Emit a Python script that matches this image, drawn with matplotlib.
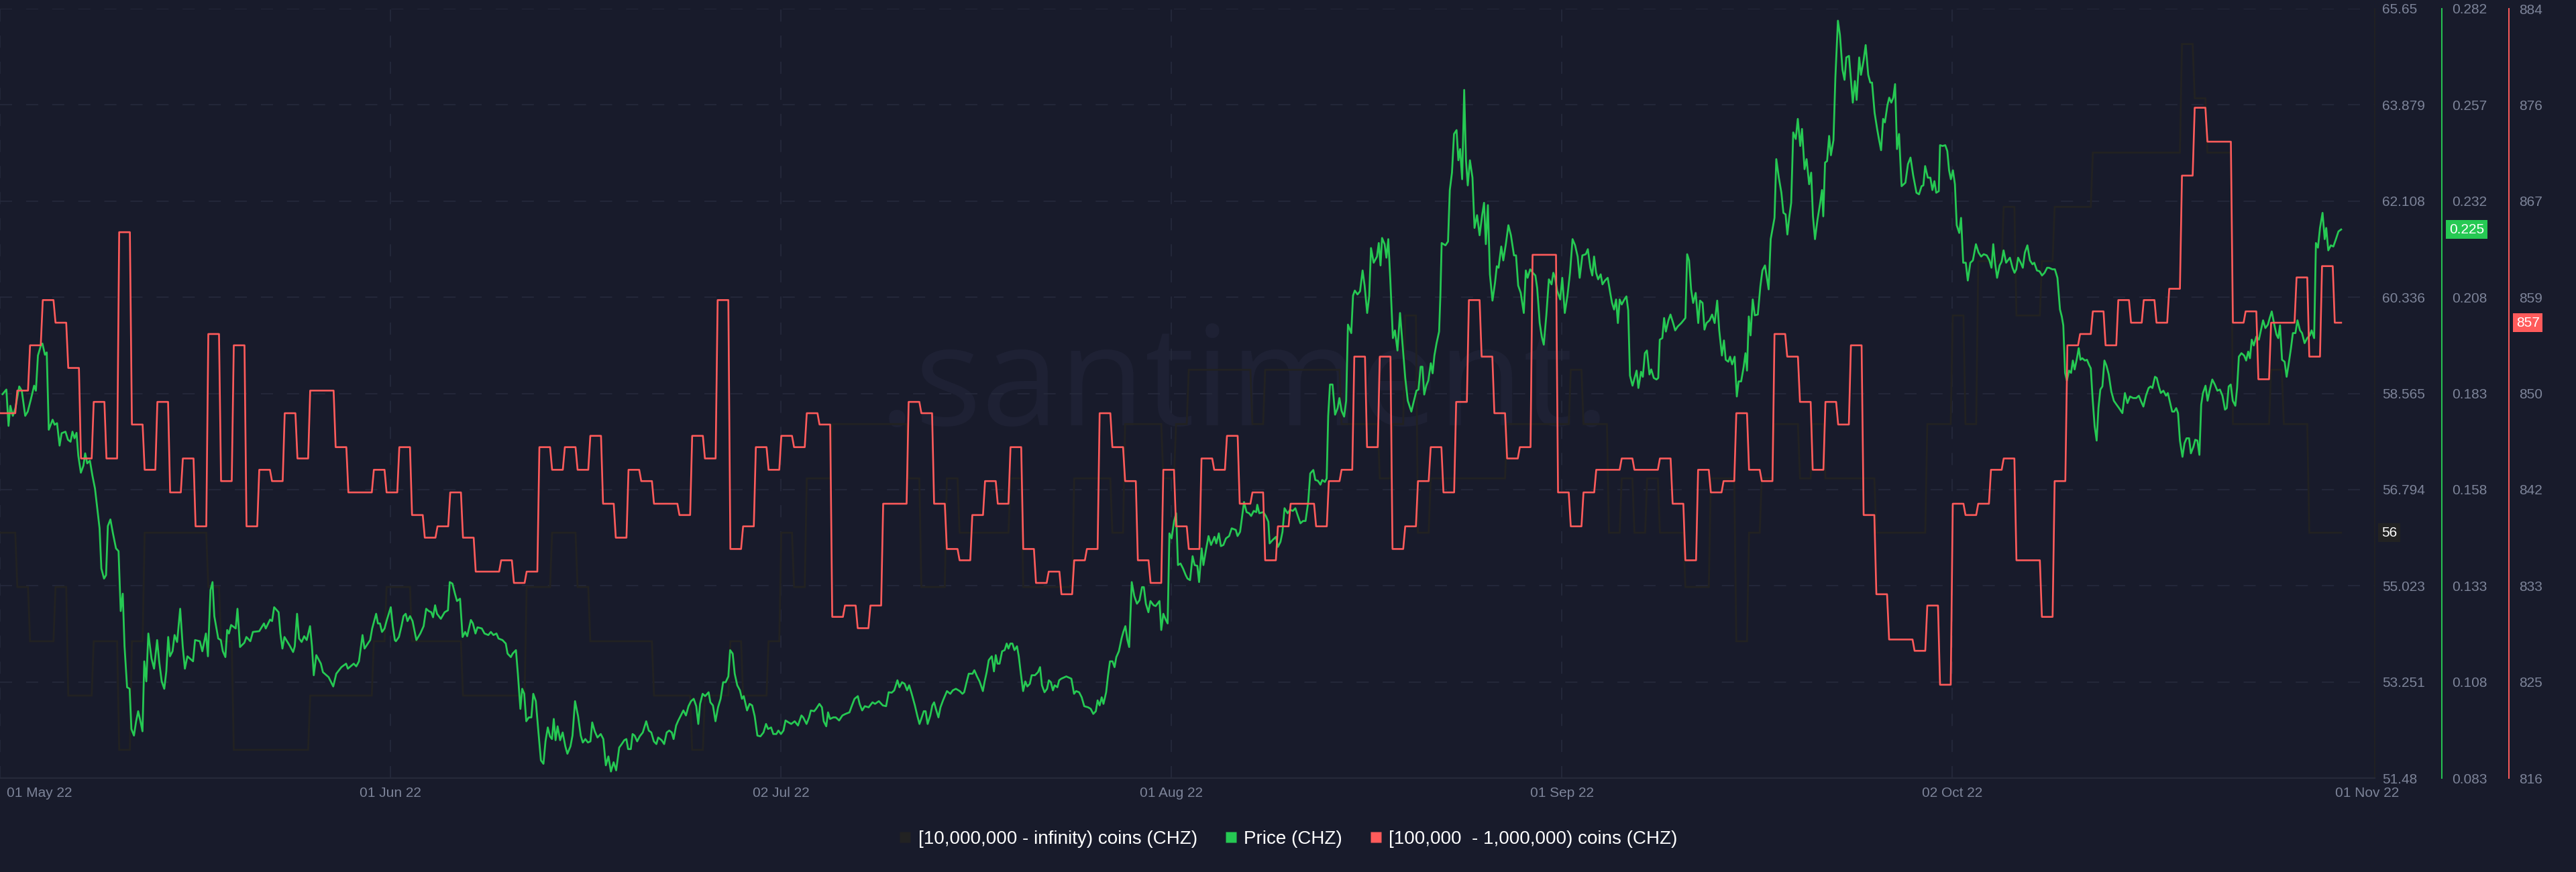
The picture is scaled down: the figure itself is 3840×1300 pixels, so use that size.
import numpy as np
import matplotlib
matplotlib.use("Agg")
import matplotlib.pyplot as plt
import matplotlib.transforms as mtransforms
from matplotlib.lines import Line2D

plt.rcParams['font.family'] = ['Liberation Sans', 'DejaVu Sans']
plt.rcParams['lines.scale_dashes'] = False

# ---------------- data (day 0 = 01 May 2022, 12:00) ----------------
date_labels = ["01 May 22", "01 Jun 22", "02 Jul 22", "01 Aug 22", "01 Sep 22", "02 Oct 22", "01 Nov 22"]
date_tick_days = [0, 30.67, 61.33, 92.0, 122.67, 153.33, 185.9]

whale_tick_labels = ["65.65", "63.879", "62.108", "60.336", "58.565", "56.794", "55.023", "53.251", "51.48"]
price_tick_labels = ["0.282", "0.257", "0.232", "0.208", "0.183", "0.158", "0.133", "0.108", "0.083"]
mid_tick_labels = ["884", "876", "867", "859", "850", "842", "833", "825", "816"]

legend_labels = ["[10,000,000 - infinity) coins (CHZ)", "Price (CHZ)", "[100,000  - 1,000,000) coins (CHZ)"]

# [10,000,000 - infinity) holders, one value per day
whale = [56, 55, 54, 54, 55, 53, 53, 54, 54, 52, 54, 56, 56, 56, 56, 56, 55, 54, 52, 52, 52, 52, 52, 52, 53, 53, 53, 53, 53, 54, 55,
         55, 54, 54, 54, 54, 53, 53, 53, 53, 53, 55, 55, 56, 56, 55, 54, 54, 54, 54, 54, 53, 53, 53, 52, 53, 53, 54, 53, 53, 54, 56, 55,
         57, 57, 58, 58, 58, 58, 58, 58, 57, 55, 55, 57, 56, 56, 56, 56, 57, 55, 55, 55, 55, 57, 57, 57, 56, 58, 58, 58, 57, 58, 59,
         59, 59, 59, 59, 58, 59, 59, 59, 59, 59, 59, 58, 58, 58, 57, 58, 60, 56, 57, 57, 57, 57, 57, 57, 58, 58, 58, 58, 58, 59, 58,
         58, 56, 57, 56, 57, 56, 56, 55, 55, 57, 57, 54, 56, 57, 58, 58, 57, 58, 57, 57, 57, 57, 56, 56, 56, 56, 58, 58, 60, 58, 61,
         61, 62, 60, 60, 61, 62, 62, 62, 63, 63, 63, 63, 63, 63, 63, 65, 64, 63, 63, 58, 58, 58, 59, 58, 58, 56, 56, 56]

# [100,000 - 1,000,000) holders, one value per day
mid = [849, 851, 855, 859, 857, 853, 845, 850, 845, 865, 848, 844, 850, 842, 845, 839, 856, 843, 855, 839, 844, 843, 849, 845, 851, 851, 846, 842, 842, 844, 842, 846,
       840, 838, 839, 842, 838, 835, 835, 836, 834, 835, 846, 844, 846, 844, 847, 841, 838, 844, 843, 841, 841, 840, 847, 845, 859, 837, 839, 846, 844, 847, 846,
       849, 848, 831, 832, 830, 832, 841, 841, 850, 849, 841, 837, 836, 840, 843, 841, 846, 837, 834, 835, 833, 836, 837, 849, 846, 843, 836, 834, 844, 839, 837,
       845, 844, 847, 841, 842, 836, 839, 841, 841, 839, 843, 844, 854, 846, 854, 837, 839, 843, 846, 842, 850, 859, 854, 849, 845, 846, 863, 863, 842, 839, 842,
       844, 844, 845, 844, 844, 845, 841, 836, 844, 842, 843, 849, 844, 843, 856, 854, 850, 844, 850, 848, 855, 840, 833, 829, 829, 828, 832, 825, 841, 840, 841,
       844, 845, 836, 836, 831, 843, 855, 856, 858, 855, 859, 857, 859, 857, 860, 870, 876, 873, 873, 857, 858, 852, 857, 857, 861, 854, 862, 857]

# CHZ price: (day, price)
price_pairs = [
    (0.20, .1823), (0.50, .1835), (0.67, .1741), (0.81, .1793), (1.01, .1767), (1.21, .1787), (1.51, .1843), (1.71, .1832),
    (1.98, .1767), (2.18, .1778), (2.42, .1809), (2.68, .1845), (2.82, .1832), (2.98, .1923), (3.23, .1951), (3.33, .1954),
    (3.53, .1925), (3.67, .1931), (3.83, .1731), (4.13, .1757), (4.29, .1744), (4.48, .1748), (4.68, .1690), (4.84, .1722),
    (5.14, .1726), (5.34, .1705), (5.54, .1700), (5.69, .1726), (5.85, .1709), (6.01, .1723), (6.15, .1664), (6.35, .1620),
    (6.55, .1638), (6.69, .1670), (6.85, .1644), (7.06, .1651), (7.26, .1612), (7.46, .1579), (7.66, .1521), (7.82, .1476),
    (7.96, .1372), (8.17, .1346), (8.33, .1355), (8.47, .1482), (8.67, .1499), (8.87, .1463), (9.11, .1424), (9.31, .1417),
    (9.48, .1262), (9.64, .1307), (9.78, .1171), (9.98, .1065), (10.18, .1061), (10.32, .0957), (10.52, .0940), (10.69, .0977),
    (10.85, .1003), (11.03, .0977), (11.19, .0951), (11.33, .1132), (11.49, .1080), (11.65, .1204), (11.90, .1139), (12.10, .1113),
    (12.34, .1187), (12.50, .1132), (12.70, .1080), (12.90, .1061), (13.06, .1106), (13.21, .1195), (13.35, .1145), (13.55, .1158),
    (13.71, .1200), (13.91, .1182), (14.15, .1268), (14.35, .1171), (14.52, .1113), (14.72, .1145), (15.16, .1132), (15.32, .1187),
    (15.69, .1184), (15.89, .1158), (16.17, .1204), (16.33, .1145), (16.53, .1316), (16.69, .1337), (16.83, .1249), (17.14, .1191),
    (17.34, .1187), (17.50, .1158), (17.70, .1143), (17.84, .1213), (17.98, .1204), (18.15, .1226), (18.51, .1217), (18.65, .1268),
    (18.85, .1169), (19.19, .1180), (19.35, .1195), (19.66, .1184), (19.86, .1208), (20.36, .1210), (20.73, .1230), (20.87, .1217),
    (21.21, .1240), (21.37, .1236), (21.53, .1272), (21.88, .1259), (22.02, .1204), (22.18, .1165), (22.34, .1195), (22.78, .1171),
    (23.02, .1156), (23.15, .1171), (23.33, .1255), (23.49, .1191), (23.69, .1182), (23.89, .1197), (24.09, .1187), (24.35, .1223),
    (24.50, .1171), (24.64, .1096), (24.84, .1148), (25.20, .1126), (25.36, .1104), (25.81, .1091), (26.17, .1067), (26.41, .1100),
    (26.81, .1117), (27.18, .1126), (27.32, .1113), (27.78, .1126), (27.98, .1119), (28.19, .1132), (28.47, .1200), (28.63, .1165),
    (29.07, .1187), (29.23, .1217), (29.54, .1255), (29.68, .1230), (29.84, .1230), (30.00, .1208), (30.20, .1217), (30.38, .1239),
    (30.69, .1272), (30.85, .1223), (31.01, .1187),
    (31.09, .1184), (31.33, .1195), (31.53, .1223), (31.69, .1249), (31.86, .1255), (32.00, .1236), (32.20, .1249), (32.40, .1236),
    (32.54, .1213), (32.70, .1187), (33.01, .1204), (33.27, .1223), (33.47, .1268), (33.67, .1262), (33.87, .1259), (34.01, .1246),
    (34.17, .1277), (34.32, .1255), (34.62, .1242), (34.92, .1259), (35.18, .1264), (35.32, .1337), (35.53, .1333), (35.73, .1307),
    (35.89, .1288), (36.13, .1294), (36.33, .1195), (36.53, .1208), (36.69, .1197), (36.98, .1239), (37.14, .1230), (37.34, .1204),
    (37.50, .1220), (37.84, .1217), (38.05, .1204), (38.35, .1200), (38.55, .1208), (38.75, .1200), (38.99, .1204), (39.15, .1191),
    (39.46, .1187), (39.72, .1178), (39.86, .1152), (40.12, .1143), (40.26, .1152), (40.52, .1161), (40.67, .1100), (40.87, .1009),
    (41.01, .1061), (41.17, .1048), (41.33, .0977), (41.53, .0987), (41.73, .0987), (41.88, .1048), (42.08, .1029), (42.28, .0951),
    (42.48, .0876), (42.68, .0867), (42.84, .0925), (43.02, .0961), (43.19, .0938), (43.35, .0931), (43.49, .0983), (43.63, .0928),
    (43.79, .0964), (43.99, .0928), (44.19, .0948), (44.40, .0912), (44.56, .0893), (44.80, .0912), (44.96, .0940), (45.16, .1029),
    (45.40, .0990), (45.61, .0940), (45.77, .0922), (45.97, .0931), (46.17, .0922), (46.37, .0925), (46.51, .0974), (46.71, .0951),
    (46.92, .0935), (47.18, .0944), (47.38, .0931), (47.58, .0863), (47.78, .0886), (47.98, .0847), (48.19, .0871), (48.39, .0850),
    (48.63, .0909), (48.83, .0918), (49.03, .0928), (49.19, .0931), (49.33, .0905), (49.54, .0905), (49.68, .0944), (49.84, .0940),
    (50.04, .0925), (50.24, .0938), (50.48, .0948), (50.75, .0977), (50.95, .0953), (51.15, .0948), (51.35, .0925), (51.55, .0918),
    (51.69, .0935), (51.96, .0928), (52.16, .0918), (52.36, .0948), (52.56, .0953), (52.76, .0948), (52.90, .0931), (53.10, .0966),
    (53.27, .0979), (53.47, .0992), (53.67, .1005), (53.87, .0992), (54.07, .1016), (54.27, .1029), (54.48, .1035), (54.68, .1016),
    (54.84, .0970), (54.98, .1022), (55.18, .1048), (55.38, .1042), (55.65, .1052), (55.79, .1026), (55.99, .1018), (56.19, .0977),
    (56.39, .1013), (56.59, .1035), (56.79, .1078), (56.99, .1078), (57.20, .1093), (57.34, .1161), (57.54, .1152), (57.70, .1100),
    (57.90, .1070), (58.11, .1057), (58.27, .1035), (58.41, .1042), (58.67, .1005), (58.87, .1022), (59.07, .1018), (59.27, .0990),
    (59.48, .0940), (59.72, .0938), (59.96, .0948), (60.16, .0970), (60.32, .0957), (60.56, .0961), (60.73, .0944), (60.97, .0944),
    (61.13, .0953), (61.33, .0944), (61.53, .0953), (61.69, .0979), (61.93, .0974), (62.14, .0970),
    (62.41, .0977), (62.67, .0966), (62.94, .0992), (63.08, .0987), (63.34, .0970), (63.54, .0987), (63.68, .1005), (63.94, .1003),
    (64.09, .1009), (64.35, .1022), (64.55, .1013), (64.69, .0977), (64.89, .0964), (65.03, .1000), (65.19, .0983), (65.44, .0987),
    (65.64, .0987), (65.90, .0979), (66.16, .0992), (66.40, .0996), (66.71, .1000), (66.91, .1018), (67.11, .1035), (67.37, .1042),
    (67.51, .1022), (67.71, .1005), (67.92, .1016), (68.22, .1013), (68.52, .1026), (68.72, .1022), (69.02, .1029), (69.33, .1018),
    (69.59, .1016), (69.79, .1052), (70.03, .1051), (70.23, .1057), (70.48, .1083), (70.64, .1065), (70.84, .1078), (71.04, .1074),
    (71.24, .1057), (71.40, .1070), (71.60, .1048), (71.85, .1018), (72.05, .0990), (72.21, .0970), (72.35, .0983), (72.55, .1003),
    (72.69, .1003), (72.85, .0970), (73.06, .0992), (73.22, .1018), (73.36, .1026), (73.50, .1009), (73.70, .0987), (73.86, .1013),
    (74.06, .1031), (74.37, .1055), (74.63, .1048), (74.83, .1057), (75.07, .1061), (75.38, .1055), (75.58, .1048), (75.72, .1052),
    (75.88, .1074), (76.08, .1100), (76.38, .1100), (76.52, .1109), (76.73, .1093), (76.93, .1080), (77.19, .1055), (77.33, .1080),
    (77.49, .1104), (77.65, .1135), (77.89, .1145), (78.06, .1106), (78.20, .1148), (78.34, .1126), (78.50, .1126), (78.70, .1158),
    (78.90, .1161), (79.06, .1178), (79.20, .1165), (79.35, .1178), (79.51, .1178), (79.67, .1161), (79.87, .1171), (80.01, .1145),
    (80.15, .1106), (80.35, .1055), (80.52, .1080), (80.68, .1067), (80.88, .1074), (81.02, .1096), (81.28, .1096), (81.52, .1104),
    (81.68, .1117), (81.83, .1070), (82.03, .1052), (82.23, .1061), (82.37, .1083), (82.53, .1078), (82.69, .1057), (82.83, .1070),
    (83.04, .1065), (83.18, .1083), (83.34, .1087), (83.74, .1093), (84.14, .1087), (84.35, .1048), (84.51, .1055), (84.75, .1052),
    (84.95, .1039), (85.15, .1016), (85.46, .1013), (85.66, .1009), (85.86, .0996), (86.06, .1003), (86.20, .1031), (86.36, .1018),
    (86.52, .1039), (86.66, .1022), (86.87, .1052), (87.01, .1093), (87.17, .1132), (87.37, .1132), (87.53, .1117), (87.67, .1143),
    (87.87, .1158), (88.08, .1191), (88.22, .1208), (88.38, .1223), (88.54, .1187), (88.68, .1169), (88.88, .1337), (89.08, .1301),
    (89.29, .1281), (89.49, .1290), (89.69, .1324), (89.83, .1324), (89.99, .1281), (90.19, .1259), (90.35, .1288), (90.60, .1277),
    (90.76, .1275), (90.90, .1281), (91.06, .1288), (91.20, .1213), (91.36, .1255), (91.56, .1239), (91.70, .1230), (91.84, .1463),
    (92.01, .1450), (92.21, .1495), (92.37, .1515), (92.51, .1381), (92.71, .1385), (92.91, .1372), (93.12, .1355),
    (93.26, .1346), (93.46, .1342), (93.66, .1404), (93.82, .1381), (94.03, .1379), (94.17, .1337), (94.37, .1424), (94.51, .1381),
    (94.71, .1420), (94.91, .1456), (95.11, .1433), (95.38, .1454), (95.52, .1437), (95.72, .1463), (95.88, .1430), (96.08, .1433),
    (96.28, .1450), (96.53, .1456), (96.73, .1476), (97.05, .1472), (97.19, .1456), (97.39, .1467), (97.70, .1544), (97.90, .1518),
    (98.10, .1515), (98.26, .1508), (98.46, .1521), (98.66, .1518), (98.74, .1537), (98.90, .1515), (99.21, .1518), (99.41, .1508),
    (99.61, .1493), (99.71, .1437), (99.95, .1446), (100.21, .1454), (100.36, .1428), (100.56, .1441), (100.72, .1467), (100.88, .1528),
    (101.12, .1515), (101.32, .1524), (101.53, .1521), (101.73, .1528), (101.93, .1508), (102.13, .1489), (102.33, .1495), (102.53, .1495),
    (102.74, .1544), (102.90, .1618), (103.14, .1627), (103.30, .1601), (103.50, .1599), (103.70, .1589), (103.84, .1601), (104.05, .1596),
    (104.19, .1605), (104.31, .1767), (104.45, .1848), (104.65, .1848), (104.85, .1770), (105.05, .1787), (105.19, .1813), (105.36, .1780),
    (105.56, .1765), (105.72, .1806), (105.86, .2003), (106.12, .1981), (106.26, .2078), (106.40, .2091), (106.61, .2081), (106.81, .2089),
    (107.01, .2143), (107.17, .2104), (107.37, .2033), (107.53, .2076), (107.67, .2201), (107.88, .2163), (108.14, .2179), (108.28, .2214),
    (108.42, .2156), (108.54, .2227), (108.74, .2211), (108.88, .2176), (109.03, .2224), (109.19, .2117), (109.39, .1968), (109.55, .1988),
    (109.75, .1936), (109.95, .2033), (110.15, .1951), (110.36, .1865), (110.56, .1806), (110.84, .1778), (111.00, .1800), (111.24, .1832),
    (111.40, .1835), (111.57, .1894), (111.71, .1894), (111.85, .1822), (112.01, .1845), (112.17, .1858), (112.37, .1903), (112.51, .1877),
    (112.65, .1923), (112.82, .1955), (113.02, .1985), (113.12, .2078), (113.22, .2214), (113.52, .2208), (113.72, .2218), (113.86, .2351),
    (114.03, .2396), (114.19, .2496), (114.39, .2506), (114.53, .2428), (114.67, .2457), (114.83, .2379), (114.99, .2610), (115.13, .2428),
    (115.27, .2363), (115.44, .2428), (115.64, .2383), (115.80, .2253), (116.00, .2286), (116.20, .2234), (116.40, .2286), (116.55, .2318),
    (116.69, .2211), (116.85, .2312), (117.01, .2133), (117.21, .2065), (117.41, .2111), (117.55, .2154), (117.69, .2150), (117.90, .2205),
    (118.06, .2169), (118.26, .2211), (118.46, .2260), (118.66, .2234), (118.90, .2182), (119.06, .2182), (119.23, .2104), (119.43, .2085),
    (119.67, .2033), (119.83, .2143), (119.97, .2124), (120.17, .2146), (120.38, .2137), (120.58, .2130), (120.72, .2098), (120.92, .2007),
    (121.08, .1972), (121.24, .1951), (121.44, .2027), (121.64, .2120), (121.85, .2107), (121.99, .2137), (122.13, .2124), (122.29, .2091),
    (122.53, .2068), (122.69, .2124), (122.89, .2033), (123.10, .2078), (123.30, .2137), (123.50, .2224), (123.70, .2208), (123.90, .2179),
    (124.06, .2124), (124.27, .2182),
    (124.54, .2185), (124.70, .2198), (124.90, .2150), (125.05, .2130), (125.19, .2179), (125.35, .2137), (125.51, .2120), (125.71, .2133),
    (125.85, .2107), (126.05, .2117), (126.26, .2124), (126.46, .2085), (126.60, .2059), (126.76, .2042), (126.92, .2068), (127.06, .2007),
    (127.20, .2068), (127.36, .2055), (127.57, .2068), (127.73, .2076), (127.87, .2040), (128.01, .1871), (128.21, .1845), (128.37, .1865),
    (128.53, .1884), (128.67, .1839), (128.88, .1881), (129.02, .1868), (129.18, .1929), (129.34, .1936), (129.54, .1874), (129.68, .1887),
    (129.88, .1865), (130.09, .1861), (130.23, .1865), (130.35, .1964), (130.55, .1968), (130.69, .2020), (130.83, .1985), (131.03, .2014),
    (131.19, .2029), (131.40, .2007), (131.56, .1988), (131.76, .1998), (132.04, .2007), (132.36, .2020), (132.50, .2185), (132.65, .2169),
    (132.81, .2094), (132.97, .2059), (133.17, .2085), (133.37, .2007), (133.51, .2065), (133.71, .2059), (133.86, .1990), (134.02, .2007),
    (134.26, .2014), (134.46, .2029), (134.66, .2007), (134.86, .2065), (135.02, .1988), (135.23, .1923), (135.39, .1962), (135.53, .1912),
    (135.73, .1907), (135.87, .1920), (136.03, .1900), (136.23, .1920), (136.40, .1817), (136.54, .1856), (136.74, .1856), (136.94, .1894),
    (137.08, .1929), (137.20, .1884), (137.34, .2024), (137.48, .1975), (137.65, .2068), (137.81, .2027), (138.05, .2029), (138.25, .2102),
    (138.41, .2143), (138.61, .2156), (138.90, .2094), (139.06, .2224), (139.36, .2279), (139.50, .2431), (139.70, .2383), (139.90, .2344),
    (140.06, .2292), (140.23, .2288), (140.37, .2236), (140.51, .2279), (140.67, .2318), (140.83, .2500), (141.03, .2483), (141.19, .2535),
    (141.38, .2465), (141.52, .2509), (141.72, .2405), (141.88, .2431), (142.08, .2366), (142.24, .2396), (142.38, .2283), (142.54, .2224),
    (142.73, .2273), (142.93, .2314), (143.09, .2351), (143.19, .2283), (143.33, .2422), (143.49, .2426), (143.65, .2491), (143.79, .2441),
    (143.99, .2480), (144.14, .2642), (144.34, .2789), (144.50, .2752), (144.70, .2662), (144.86, .2636), (145.00, .2694), (145.21, .2698),
    (145.35, .2642), (145.51, .2577), (145.67, .2633), (145.81, .2584), (146.01, .2694), (146.15, .2649), (146.35, .2685), (146.52, .2726),
    (146.72, .2649), (146.88, .2629), (147.02, .2629), (147.22, .2551), (147.42, .2509), (147.56, .2483), (147.73, .2454), (147.89, .2535),
    (148.03, .2526), (148.23, .2571), (148.37, .2590), (148.53, .2577), (148.69, .2590), (148.83, .2625), (148.98, .2457), (149.14, .2496),
    (149.34, .2361), (149.64, .2370), (149.84, .2418), (150.04, .2435), (150.25, .2389), (150.51, .2344), (150.71, .2340), (150.91, .2361),
    (151.05, .2363), (151.19, .2413), (151.40, .2383), (151.60, .2383), (151.76, .2351), (151.92, .2374), (152.06, .2344), (152.26, .2348),
    (152.36, .2467), (152.56, .2465), (152.77, .2467), (152.93, .2452), (153.07, .2402), (153.21, .2379), (153.37, .2402), (153.53, .2366),
    (153.67, .2260), (153.87, .2240), (154.01, .2279), (154.18, .2163), (154.38, .2163), (154.54, .2117), (154.74, .2163), (154.94, .2169),
    (155.18, .2211), (155.39, .2189),
    (155.59, .2179), (155.79, .2185), (156.03, .2182), (156.24, .2169), (156.40, .2150), (156.54, .2211), (156.68, .2163), (156.84, .2124),
    (157.04, .2156), (157.20, .2166), (157.35, .2195), (157.55, .2163), (157.69, .2169), (157.85, .2176), (158.05, .2150), (158.21, .2137),
    (158.35, .2146), (158.49, .2176), (158.70, .2163), (158.86, .2150), (159.02, .2189), (159.22, .2208), (159.42, .2169), (159.62, .2159),
    (159.76, .2163), (159.97, .2143), (160.17, .2141), (160.37, .2130), (160.57, .2137), (160.77, .2150), (160.91, .2150), (161.18, .2146),
    (161.38, .2146), (161.58, .2124), (161.78, .2042), (161.92, .2024), (162.04, .2001), (162.18, .1878), (162.32, .1858), (162.49, .1884),
    (162.65, .1878), (162.79, .1910), (162.93, .1887), (163.09, .1912), (163.25, .1942), (163.39, .1912), (163.53, .1916), (163.74, .1910),
    (163.90, .1912), (164.06, .1899), (164.20, .1890), (164.34, .1813), (164.50, .1741), (164.66, .1703), (164.80, .1787), (164.95, .1835),
    (165.11, .1843), (165.27, .1910), (165.43, .1897), (165.61, .1874), (165.81, .1830), (166.01, .1806), (166.22, .1796), (166.42, .1787),
    (166.68, .1774), (166.88, .1826), (167.08, .1800), (167.28, .1817), (167.53, .1813), (167.77, .1813), (167.97, .1819), (168.13, .1806),
    (168.33, .1791), (168.53, .1819), (168.74, .1839), (168.90, .1843), (169.04, .1839), (169.24, .1868), (169.38, .1865), (169.54, .1843),
    (169.70, .1826), (169.90, .1832), (170.11, .1819), (170.25, .1826), (170.39, .1806), (170.59, .1778), (170.75, .1778), (170.91, .1787),
    (171.05, .1774), (171.20, .1703), (171.40, .1661), (171.56, .1696), (171.72, .1709), (171.92, .1709), (172.06, .1670), (172.26, .1687),
    (172.40, .1705), (172.57, .1703), (172.73, .1666), (172.87, .1796), (173.01, .1826), (173.21, .1845), (173.37, .1806), (173.53, .1832),
    (173.74, .1861), (173.94, .1848), (174.14, .1832), (174.34, .1835), (174.54, .1819), (174.74, .1783), (174.88, .1787), (175.03, .1843),
    (175.19, .1848), (175.35, .1806), (175.55, .1793), (175.69, .1839), (175.83, .1920), (176.03, .1929), (176.24, .1923), (176.40, .1910),
    (176.56, .1933), (176.70, .1916), (176.84, .1964), (177.00, .1949), (177.20, .1972), (177.40, .1964), (177.57, .1990), (177.73, .2014),
    (177.91, .1994), (178.11, .2003), (178.25, .2020), (178.41, .2037), (178.61, .2003), (178.78, .1977), (178.92, .1968), (179.06, .2001),
    (179.22, .1912), (179.42, .1907), (179.58, .1868), (179.72, .1897), (179.92, .1942), (180.07, .1981), (180.27, .1981), (180.43, .2014),
    (180.63, .1988), (180.79, .1981), (180.99, .1955), (181.19, .1968), (181.40, .1975), (181.54, .1988), (181.74, .1968), (181.88, .2214),
    (182.04, .2202), (182.20, .2253), (182.40, .2292), (182.57, .2224), (182.69, .2253), (182.85, .2195), (183.05, .2208), (183.25, .2205),
    (183.45, .2224), (183.65, .2244), (183.86, .2249),
]
price_days = [p[0] for p in price_pairs]
price = [p[1] for p in price_pairs]

# ---------------- style ----------------
BG = '#181b2b'
GRID = '#262a3c'
TICK = '#7d8499'
GREEN = '#26c953'
RED = '#ff5b5b'
DARK = '#222222'
W, H = 3840, 1300


def daily_steps(vals, end):
    xs, ys = [], []
    for k, v in enumerate(vals):
        a = 0 if k == 0 else k + 0.36
        b = min(k + 1.2, end)
        xs += [a, b]
        ys += [v, v]
    return xs, ys


fig = plt.figure(figsize=(W / 100, H / 100), dpi=100, facecolor=BG)
PL, PR, PT, PB = 0, 3540, 13, 1160
ax = fig.add_axes([PL / W, 1 - PB / H, (PR - PL) / W, (PB - PT) / H])
ax.set_facecolor(BG)
ax.set_xlim(0, 186.5)
ax.set_ylim(51.48, 65.65)

# twin axes first (twinx resets the host's tick side)
ax2 = ax.twinx()
ax3 = ax.twinx()

# whale axis (ticks shown right next to plot)
ax.set_yticks(np.linspace(51.48, 65.65, 9))
ax.set_yticklabels(whale_tick_labels[::-1])
ax.yaxis.tick_right()
ax.yaxis.set_label_position('right')
ax.tick_params(axis='y', which='both', left=False, labelleft=False, right=False, labelright=True,
               length=0, pad=8, labelsize=15, labelcolor=TICK)
ax.grid(axis='y', color=GRID, lw=1.2, ls=(0, (13, 15)))
for d in date_tick_days[:6]:
    ax.axvline(d, color=GRID, lw=1.2, ls=(0, (13, 15)), zorder=0.6)
for s in ['top', 'left']:
    ax.spines[s].set_visible(False)
ax.spines['right'].set_color(DARK)
ax.spines['right'].set_linewidth(1.2)
ax.spines['bottom'].set_color('#262a3a')
ax.spines['bottom'].set_linewidth(1.6)

ax.set_xticks(date_tick_days)
ax.set_xticklabels(date_labels)
ax.tick_params(axis='x', length=0, pad=9, labelsize=15, labelcolor=TICK)
first = ax.get_xticklabels()[0]
first.set_ha('left')
first.set_transform(first.get_transform() + mtransforms.ScaledTranslation(10 / 100, 0, fig.dpi_scale_trans))

# watermark
ax.text(0.524, 0.4586, '.santiment.', transform=ax.transAxes, ha='center', va='baseline',
        fontsize=150, color='#1e2134', family=['Open Sans', 'DejaVu Sans'], zorder=0.5)

wx, wy = daily_steps(whale, price_days[-1])
ax.plot(wx, wy, color=DARK, lw=2.0, zorder=2, solid_joinstyle='miter')

# price axis
ax2.set_ylim(0.083, 0.282)
ax2.set_yticks(np.linspace(0.083, 0.282, 9))
ax2.set_yticklabels(price_tick_labels[::-1])
ax2.spines['right'].set_position(('axes', 3640 / 3540))
ax2.spines['right'].set_color(GREEN)
ax2.spines['right'].set_linewidth(1.4)
for s in ['top', 'left', 'bottom']:
    ax2.spines[s].set_visible(False)
ax2.tick_params(axis='y', length=0, pad=11, labelsize=15, labelcolor=TICK)
ax2.plot(price_days, price, color=GREEN, lw=2.0, zorder=3)

# mid holders axis
ax3.set_ylim(816.75, 884.75)
ax3.set_yticks(np.linspace(816.75, 884.75, 9))
ax3.set_yticklabels(mid_tick_labels[::-1])
ax3.spines['right'].set_position(('axes', 3740 / 3540))
ax3.spines['right'].set_color(RED)
ax3.spines['right'].set_linewidth(1.4)
for s in ['top', 'left', 'bottom']:
    ax3.spines[s].set_visible(False)
ax3.tick_params(axis='y', length=0, pad=11, labelsize=15, labelcolor=TICK)
mx, my = daily_steps(mid, price_days[-1])
ax3.plot(mx, my, color=RED, lw=1.9, zorder=3)

# last value badges
ax2.text(3651 / 3540, price[-1], f"{price[-1]:.3f}",
         transform=mtransforms.blended_transform_factory(ax.transAxes, ax2.transData),
         ha='left', va='center', fontsize=15, color='white', clip_on=False,
         bbox=dict(boxstyle='square,pad=0.22', fc=GREEN, ec='none'))
ax3.text(3751 / 3540, mid[-1], f"{mid[-1]}",
         transform=mtransforms.blended_transform_factory(ax.transAxes, ax3.transData),
         ha='left', va='center', fontsize=15, color='white', clip_on=False,
         bbox=dict(boxstyle='square,pad=0.22', fc=RED, ec='none'))
ax3.text(3550 / 3540, whale[-1], f"{whale[-1]}",
         transform=mtransforms.blended_transform_factory(ax.transAxes, ax.transData),
         ha='left', va='center', fontsize=15, color='white', clip_on=False, zorder=10,
         bbox=dict(boxstyle='square,pad=0.22', fc=DARK, ec='none'))

# legend
handles = [Line2D([], [], ls='none', marker='s', ms=12, mfc=c, mec='none') for c in (DARK, GREEN, RED)]
fig.legend(handles, legend_labels, loc='center', bbox_to_anchor=(0.5, 49 / 1300), ncol=3, frameon=False,
           fontsize=20, labelcolor='white', handlelength=0.7, handletextpad=0.35, columnspacing=1.45,
           borderaxespad=0)

fig.savefig('out.png', dpi=100, facecolor=BG)
